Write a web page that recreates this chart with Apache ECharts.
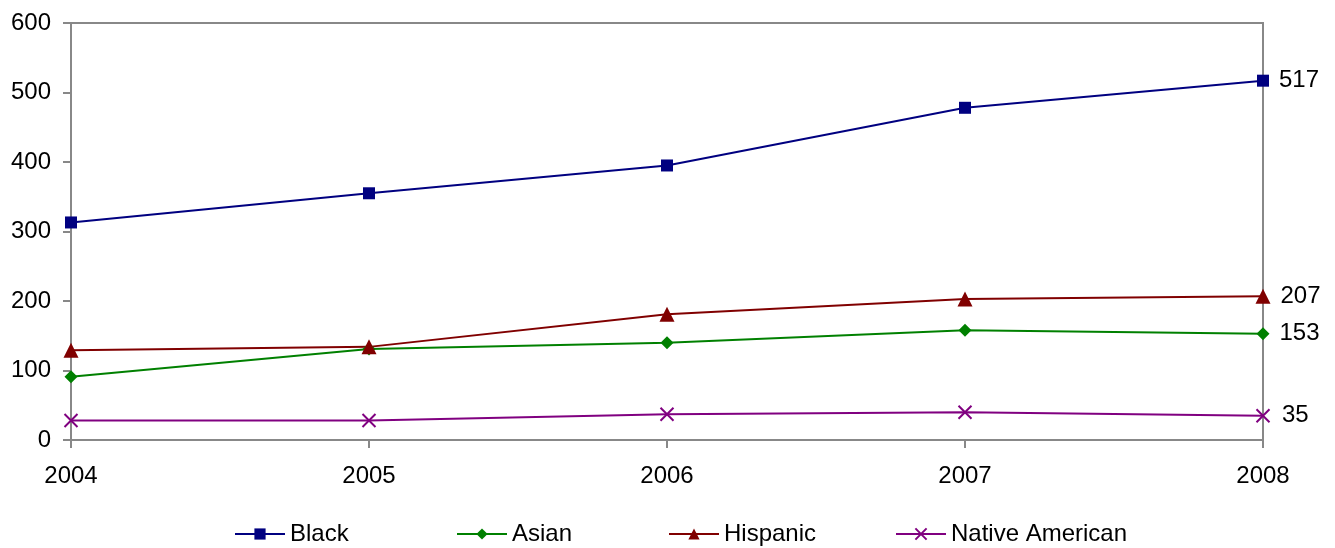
<!DOCTYPE html>
<html><head><meta charset="utf-8">
<script src="https://cdn.jsdelivr.net/npm/echarts@6/dist/echarts.min.js"></script>
<style>html,body{margin:0;padding:0;background:#fff}#c{width:1335px;height:548px}</style>
</head><body><div id="c"></div>
<script>
const years = ['2004','2005','2006','2007','2008'];
const black = [313, 355, 395, 478, 517];
const asian = [91, 131, 140, 158, 153];
const hispanic = [129, 134, 181, 203, 207];
const nativeAmerican = [28, 28, 37, 40, 35];
const yTicks = {min: 0, max: 600, interval: 100};
const seriesNames = ['Black', 'Asian', 'Hispanic', 'Native American'];

const FONT = 'Liberation Sans';
const FS = 24;
const chart = echarts.init(document.getElementById('c'));
const lastLabel = (idxLast) => ({
  show: true, position: 'right', distance: 10, color: '#000', fontSize: FS, fontFamily: FONT,
  formatter: p => p.dataIndex === idxLast ? p.value : ''
});
function mk(name, data, color, symbol, size, extra) {
  return Object.assign({
    name, type: 'line', data, symbol, symbolSize: size, color,
    lineStyle: {color, width: 2}, itemStyle: {color},
    label: lastLabel(data.length - 1), animation: false
  }, extra || {});
}
const legendLefts = [234, 456, 668, 895];
const legends = seriesNames.map((n, i) => ({
  top: 522, left: legendLefts[i], padding: 0, itemWidth: 50, itemHeight: 14,
  textStyle: {color: '#000', fontSize: FS, fontFamily: FONT},
  data: [n]
}));
chart.setOption({
  animation: false,
  textStyle: {fontFamily: FONT},
  grid: {left: 71, right: 72, top: 23, bottom: 108, show: true, borderColor: '#888', borderWidth: 2},
  xAxis: {
    type: 'category', data: years, boundaryGap: false,
    axisLine: {lineStyle: {color: '#888', width: 2}},
    axisTick: {show: true, length: 8, lineStyle: {color: '#888', width: 2}},
    axisLabel: {color: '#000', fontSize: FS, fontFamily: FONT, margin: 24},
    splitLine: {show: false}
  },
  yAxis: {
    type: 'value', min: yTicks.min, max: yTicks.max, interval: yTicks.interval,
    axisLine: {show: true, lineStyle: {color: '#888', width: 2}},
    axisTick: {show: true, length: 8, lineStyle: {color: '#888', width: 2}},
    axisLabel: {color: '#000', fontSize: FS, fontFamily: FONT, margin: 20},
    splitLine: {show: false}
  },
  legend: legends,
  series: [
    mk(seriesNames[0], black, '#000080', 'rect', 12),
    mk(seriesNames[1], asian, '#008000', 'diamond', 13),
    mk(seriesNames[2], hispanic, '#800000', 'triangle', 15),
    mk(seriesNames[3], nativeAmerican, '#800080', 'path://M0,0L10,10M10,0L0,10', 13,
      {itemStyle: {color: 'none', borderColor: '#800080', borderWidth: 2}})
  ]
});
</script></body></html>
